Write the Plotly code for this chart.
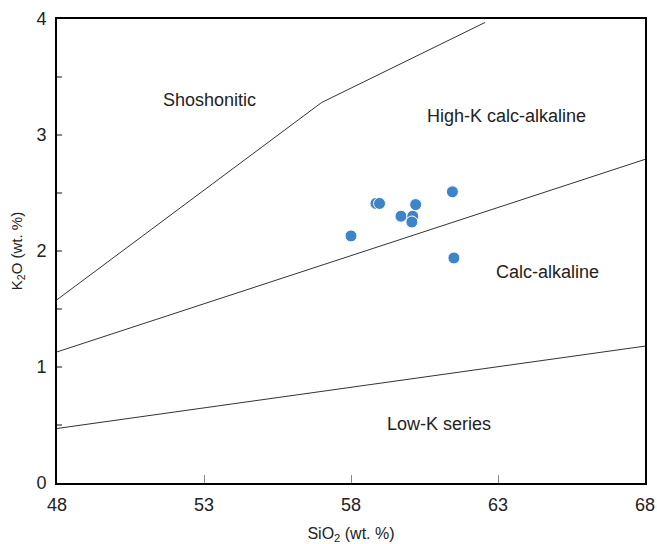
import plotly.graph_objects as go

# Sample data
sio2 = [58.0, 58.85, 58.97, 59.7, 60.1, 60.07, 60.2, 61.45, 61.5]
k2o = [2.13, 2.41, 2.41, 2.30, 2.30, 2.25, 2.40, 2.51, 1.94]

# Boundary lines
sho_x = [48, 57.0, 62.56]
sho_y = [1.58, 3.28, 3.97]
hk_x = [48, 68]
hk_y = [1.13, 2.79]
lk_x = [48, 68]
lk_y = [0.47, 1.18]

labels = ["Shoshonitic", "High-K calc-alkaline", "Calc-alkaline", "Low-K series"]
label_x = [53.2, 63.3, 64.7, 61.0]
label_y = [3.30, 3.16, 1.82, 0.51]

x_ticks = [48, 53, 58, 63, 68]
y_ticks = [0, 1, 2, 3, 4]

FONT = "Liberation Sans, Arial, sans-serif"

fig = go.Figure()
for xs, ys in [(sho_x, sho_y), (hk_x, hk_y), (lk_x, lk_y)]:
    fig.add_trace(go.Scatter(x=xs, y=ys, mode="lines",
                             line=dict(color="#333333", width=1), hoverinfo="skip"))
fig.add_trace(go.Scatter(x=sio2, y=k2o, mode="markers",
                         marker=dict(size=12, color="#3d85c8",
                                     line=dict(color="white", width=1))))

for t, x, y in zip(labels, label_x, label_y):
    fig.add_annotation(x=x, y=y, text=t, showarrow=False,
                       font=dict(size=18, color="#222222", family=FONT))

fig.update_layout(
    width=657, height=544,
    margin=dict(l=57, r=12, t=19, b=61),
    plot_bgcolor="white", paper_bgcolor="white",
    showlegend=False,
    font=dict(family=FONT, color="#222222"),
)
fig.update_xaxes(range=[48, 68], tickvals=x_ticks, ticks="inside", ticklen=8,
                 tickcolor="#888888", tickwidth=1, automargin=False,
                 ticklabelstandoff=4,
                 showline=True, linecolor="black", linewidth=2, mirror=True,
                 showgrid=False, zeroline=False,
                 tickfont=dict(size=18),
                 title=dict(text="SiO<sub>2</sub> (wt. %)", font=dict(size=16), standoff=16))
fig.update_yaxes(range=[0, 4], tickvals=y_ticks, ticks="inside", ticklen=5,
                 tickcolor="#888888", tickwidth=2, automargin=False,
                 ticklabelstandoff=5,
                 minor=dict(tickvals=[0.5, 1.5, 2.5, 3.5], ticks="inside", ticklen=5,
                            tickcolor="#888888", tickwidth=2),
                 showline=True, linecolor="black", linewidth=2, mirror=True,
                 showgrid=False, zeroline=False,
                 tickfont=dict(size=18),
                 title=dict(text="K<sub>2</sub>O (wt. %)", font=dict(size=15), standoff=10))

fig.write_html("out.html")
